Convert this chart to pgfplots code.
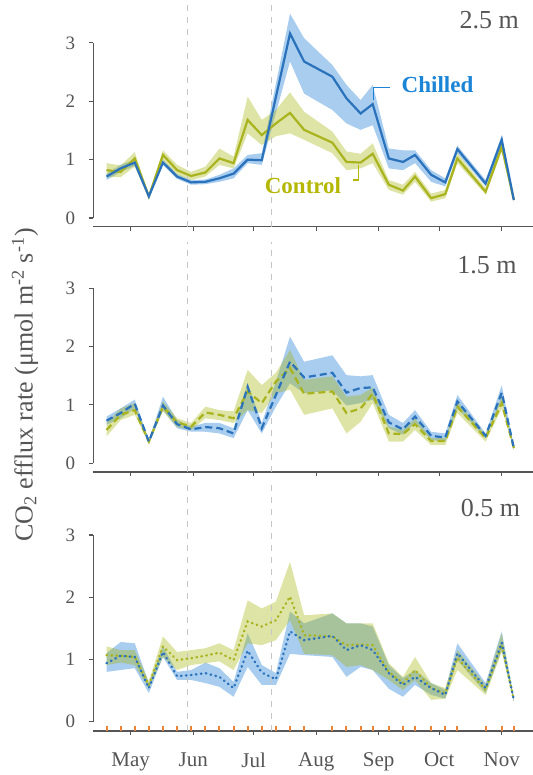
\documentclass[border=0pt]{standalone}
\usepackage{fontspec}
\setmainfont{Liberation Serif}
\usepackage{pgfplots}
\usepackage{pgfplotstable}
\pgfplotsset{compat=1.18}
\usepgfplotslibrary{fillbetween}

\definecolor{axisgray}{HTML}{555555}
\definecolor{chline}{HTML}{2A72BB}
\definecolor{chtext}{HTML}{1A84D6}
\definecolor{chband}{HTML}{A9CDEF}
\definecolor{coline}{HTML}{A9B31E}
\definecolor{cotext}{HTML}{B4B804}
\definecolor{coband}{RGB}{161,178,1}
\definecolor{sampc}{HTML}{E8853A}

% d = day of year; ch = chilled mean, chlo/chhi band; co = control mean, colo/cohi band
\pgfplotstableread{
d   ch   chlo chhi co   colo cohi
109 0.71 0.65 0.76 0.82 0.70 0.94
116 0.85 0.79 0.91 0.79 0.70 0.90
123 0.95 0.89 1.00 1.02 0.88 1.13
130 0.37 0.34 0.39 0.37 0.34 0.40
137 0.95 0.91 1.00 1.08 0.99 1.16
144 0.71 0.67 0.75 0.82 0.74 0.91
151 0.61 0.57 0.65 0.72 0.65 0.79
158 0.62 0.58 0.66 0.78 0.71 0.88
165 0.68 0.62 0.74 1.02 0.91 1.19
172 0.76 0.68 0.85 0.94 0.85 1.05
179 1.00 0.94 1.08 1.68 1.45 2.08
186 0.99 0.91 1.11 1.42 1.25 1.68
193 2.07 1.80 2.30 1.62 1.40 1.85
200 3.16 2.68 3.50 1.80 1.45 2.15
207 2.68 2.13 3.08 1.51 1.34 1.82
221 2.42 1.85 2.62 1.29 1.11 1.48
228 2.05 1.62 2.28 0.96 0.82 1.14
235 1.79 1.51 2.02 0.95 0.85 1.10
241 1.95 1.59 2.28 1.10 0.94 1.28
249 1.02 0.85 1.19 0.57 0.48 0.65
256 0.96 0.82 1.16 0.47 0.40 0.57
262 1.08 0.94 1.16 0.71 0.62 0.79
270 0.74 0.62 0.82 0.34 0.28 0.42
277 0.61 0.54 0.68 0.41 0.34 0.48
283 1.18 1.11 1.24 1.02 0.94 1.11
297 0.59 0.54 0.65 0.45 0.40 0.51
305 1.34 1.22 1.42 1.22 1.14 1.31
311 0.31 0.28 0.34 0.31 0.28 0.34
}\deeptab

\pgfplotstableread{
d   ch   chlo chhi co   colo cohi
109 0.73 0.66 0.80 0.57 0.46 0.69
116 0.86 0.77 0.94 0.83 0.74 0.94
123 1.02 0.94 1.09 0.91 0.83 1.03
130 0.37 0.34 0.40 0.37 0.34 0.40
137 0.99 0.91 1.14 0.97 0.89 1.06
144 0.67 0.60 0.74 0.70 0.62 0.77
151 0.58 0.54 0.63 0.63 0.57 0.69
158 0.62 0.54 0.69 0.87 0.77 0.97
165 0.60 0.51 0.69 0.83 0.74 0.91
172 0.51 0.43 0.60 0.77 0.69 0.89
179 1.31 0.91 1.37 1.23 0.91 1.60
186 0.60 0.51 0.69 1.03 0.86 1.34
193 1.17 0.97 1.40 1.40 1.20 1.55
200 1.74 1.37 2.17 1.63 1.26 1.94
207 1.47 1.20 1.74 1.19 0.83 1.43
221 1.55 1.25 1.85 1.23 0.94 1.49
228 1.21 0.99 1.51 0.86 0.51 1.14
235 1.29 1.03 1.49 0.94 0.71 1.17
241 1.30 1.09 1.51 1.19 1.03 1.30
249 0.70 0.60 0.83 0.51 0.37 0.63
256 0.58 0.49 0.69 0.50 0.37 0.57
262 0.80 0.69 0.91 0.67 0.57 0.77
270 0.47 0.40 0.54 0.38 0.31 0.43
277 0.44 0.37 0.51 0.38 0.31 0.43
283 1.06 0.94 1.17 0.97 0.86 1.06
297 0.47 0.43 0.51 0.43 0.37 0.49
305 1.21 1.09 1.34 1.03 0.94 1.14
311 0.26 0.23 0.29 0.26 0.23 0.29
}\midtab

\pgfplotstableread{
d   ch   chlo chhi co   colo cohi
109 0.94 0.80 1.10 1.07 0.91 1.21
116 1.06 0.83 1.28 1.06 0.95 1.15
123 1.04 0.86 1.26 1.04 0.91 1.15
130 0.54 0.46 0.62 0.59 0.53 0.65
137 1.12 1.04 1.21 1.21 1.04 1.37
144 0.73 0.67 0.80 0.99 0.83 1.12
151 0.75 0.67 0.83 1.02 0.91 1.15
158 0.78 0.62 0.95 1.06 0.94 1.18
165 0.72 0.56 0.86 1.11 0.97 1.26
172 0.54 0.40 0.64 0.99 0.83 1.15
179 1.14 0.88 1.42 1.61 1.26 1.95
186 0.79 0.59 0.91 1.53 1.23 1.82
193 0.68 0.59 0.78 1.63 1.31 1.93
200 1.45 1.09 1.77 2.01 1.63 2.57
207 1.31 1.07 1.58 1.39 1.09 1.71
221 1.38 1.04 1.74 1.37 1.07 1.74
228 1.15 0.72 1.58 1.23 0.88 1.58
235 1.23 0.88 1.58 1.24 0.91 1.58
241 1.15 0.83 1.53 1.23 0.83 1.58
249 0.78 0.53 0.91 0.80 0.67 0.94
256 0.59 0.40 0.70 0.62 0.51 0.72
262 0.72 0.59 0.83 0.83 0.67 1.04
270 0.54 0.43 0.62 0.54 0.35 0.62
277 0.43 0.37 0.51 0.46 0.37 0.54
283 1.10 0.99 1.26 1.02 0.83 1.15
297 0.54 0.46 0.62 0.51 0.43 0.59
305 1.27 1.15 1.45 1.23 1.12 1.42
311 0.35 0.32 0.38 0.35 0.32 0.38
}\shallowtab

\pgfplotsset{
  panel/.style={
    scale only axis, width=219.85pt,
    xmin=102.45, xmax=320.5, ymin=-0.15, ymax=3.6,
    axis x line=bottom, axis y line=left,
    x axis line style={-, draw=axisgray, line width=0.6pt},
    y axis line style={draw=none},
    xtick={121,152,182,213,244,274,305}, xticklabels={},
    ytick={0,1,2,3}, yticklabels={0,1,2,3},
    tick align=outside, major tick length=2pt,
    tick style={draw=axisgray, line width=0.6pt},
    yticklabel style={font=\fontsize{9.5}{10}\selectfont, text=axisgray, xshift=-3.5pt},
    xticklabel style={font=\fontsize{10.5}{11}\selectfont, text=axisgray, yshift=-5.5pt},
    clip=false,
  },
  band/.style={draw=none, forget plot},
  coshade/.style={fill=coband, fill opacity=0.35},
}

\begin{document}
\begin{tikzpicture}

% ---- 2.5 m
\begin{axis}[panel, height=109.5pt, at={(46.65pt,274.1pt)}, anchor=south west]
\addplot[gray!45, dashed, line width=0.4pt] coordinates {(149,-0.15) (149,3.75)};
\addplot[gray!45, dashed, line width=0.4pt] coordinates {(191,-0.15) (191,3.75)};
\addplot[band, name path=cohi] table[x=d, y=cohi] {\deeptab};
\addplot[band, name path=colo] table[x=d, y=colo] {\deeptab};
\addplot[band, name path=chhi] table[x=d, y=chhi] {\deeptab};
\addplot[band, name path=chlo] table[x=d, y=chlo] {\deeptab};
\addplot[fill=chband] fill between[of=chhi and chlo];
\addplot[coshade] fill between[of=cohi and colo];
\addplot[coline, line width=1.1pt] table[x=d, y=co] {\deeptab};
\addplot[chline, line width=1.1pt] table[x=d, y=ch] {\deeptab};
\draw[axisgray, line width=0.6pt] (axis cs:102.45,0) -- (axis cs:102.45,3);
\end{axis}

% ---- 1.5 m
\begin{axis}[panel, height=109.4pt, at={(46.65pt,151.5pt)}, anchor=south west]
\addplot[gray!45, dashed, line width=0.4pt] coordinates {(149,-0.15) (149,3.8)};
\addplot[gray!45, dashed, line width=0.4pt] coordinates {(191,-0.15) (191,3.8)};
\addplot[band, name path=cohi] table[x=d, y=cohi] {\midtab};
\addplot[band, name path=colo] table[x=d, y=colo] {\midtab};
\addplot[band, name path=chhi] table[x=d, y=chhi] {\midtab};
\addplot[band, name path=chlo] table[x=d, y=chlo] {\midtab};
\addplot[fill=chband] fill between[of=chhi and chlo];
\addplot[coshade] fill between[of=cohi and colo];
\addplot[coline, line width=1.1pt, dash pattern=on 3.5pt off 2pt] table[x=d, y=co] {\midtab};
\addplot[chline, line width=1.1pt, dash pattern=on 3.5pt off 2pt] table[x=d, y=ch] {\midtab};
\draw[axisgray, line width=0.6pt] (axis cs:102.45,0) -- (axis cs:102.45,3);
\end{axis}

% ---- 0.5 m
\begin{axis}[panel, height=116.65pt, at={(46.65pt,22pt)}, anchor=south west,
  xticklabels={May,Jun,Jul,Aug,Sep,Oct,Nov}]
\addplot[gray!45, dashed, line width=0.4pt] coordinates {(149,-0.15) (149,3.85)};
\addplot[gray!45, dashed, line width=0.4pt] coordinates {(191,-0.15) (191,3.85)};
\addplot[band, name path=cohi] table[x=d, y=cohi] {\shallowtab};
\addplot[band, name path=colo] table[x=d, y=colo] {\shallowtab};
\addplot[band, name path=chhi] table[x=d, y=chhi] {\shallowtab};
\addplot[band, name path=chlo] table[x=d, y=chlo] {\shallowtab};
\addplot[fill=chband] fill between[of=chhi and chlo];
\addplot[coshade] fill between[of=cohi and colo];
\addplot[coline, line width=1.2pt, line cap=round, dash pattern=on 0.3pt off 2.2pt] table[x=d, y=co] {\shallowtab};
\addplot[chline, line width=1.2pt, line cap=round, dash pattern=on 0.3pt off 2.2pt] table[x=d, y=ch] {\shallowtab};
% sampling dates
\addplot[only marks, mark=|, mark size=1.3pt, sampc, line width=1pt, mark options={yshift=1.3pt}] coordinates {
(109,-0.15) (116,-0.15) (123,-0.15) (130,-0.15) (137,-0.15) (144,-0.15) (151,-0.15)
(158,-0.15) (165,-0.15) (172,-0.15) (179,-0.15) (186,-0.15) (193,-0.15) (200,-0.15)
(207,-0.15) (221,-0.15) (228,-0.15) (235,-0.15) (241,-0.15) (249,-0.15) (256,-0.15)
(262,-0.15) (270,-0.15) (277,-0.15) (283,-0.15) (297,-0.15) (305,-0.15) (311,-0.15)};
\draw[axisgray, line width=0.6pt] (axis cs:102.45,0) -- (axis cs:102.45,3);
\end{axis}

% panel labels
\node[anchor=east, text=axisgray, font=\fontsize{13}{13}\selectfont, inner sep=0pt] at (259.6pt,377.5pt) {2.5 m};
\node[anchor=east, text=axisgray, font=\fontsize{13}{13}\selectfont, inner sep=0pt] at (258.5pt,255pt) {1.5 m};
\node[anchor=east, text=axisgray, font=\fontsize{13}{13}\selectfont, inner sep=0pt] at (260.3pt,133.5pt) {0.5 m};

% series labels
\node[text=chtext, font=\bfseries\fontsize{11.5}{12}\selectfont] at (218.75pt,345pt) {Chilled};
\draw[chtext, line width=0.7pt] (186.65pt,337.5pt) -- (186.65pt,343.85pt) -- (195pt,343.85pt);
\node[text=cotext, font=\bfseries\fontsize{11.5}{12}\selectfont] at (151.5pt,294.5pt) {Control};
\draw[cotext, line width=0.7pt] (179.15pt,305pt) -- (179.15pt,297.5pt) -- (176.5pt,297.5pt);

% y label
\node[rotate=90, text=axisgray, font=\fontsize{13}{13}\selectfont] at (12.5pt,195pt)
  {CO\textsubscript{2} efflux rate (μmol m\textsuperscript{-2} s\textsuperscript{-1})};

\pgfresetboundingbox
\useasboundingbox (0,0) rectangle (266.5pt,387.5pt);
\end{tikzpicture}
\end{document}
